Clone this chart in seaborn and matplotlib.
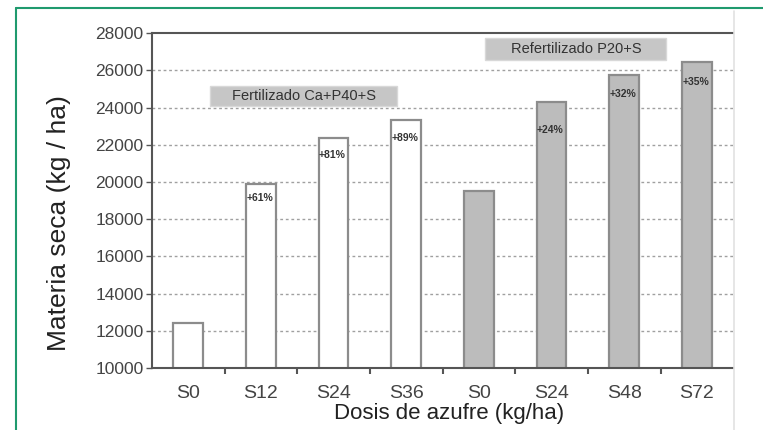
import matplotlib
matplotlib.use('Agg')
import matplotlib.pyplot as plt
import numpy as np
import pandas as pd
import seaborn as sns
from matplotlib.lines import Line2D
from matplotlib.patches import Rectangle

# Datos
CATEGORIAS = ['S0', 'S12', 'S24', 'S36', 'S0', 'S24', 'S48', 'S72']
GRUPOS = ['Fertilizado'] * 4 + ['Refertilizado'] * 4
MATERIA_SECA = [12400, 19900, 22350, 23330, 19530, 24280, 25740, 26430]
INCREMENTOS = ['', '+61%', '+81%', '+89%', '', '+24%', '+32%', '+35%']
ALTURA_ETIQUETA = [0, 19140, 21450, 22370, 0, 22800, 24730, 25380]

df = pd.DataFrame({
    'pos': range(len(CATEGORIAS)),
    'grupo': GRUPOS,
    'valor': MATERIA_SECA,
})

sns.set_theme(style="white")
plt.rcParams['font.family'] = ['Liberation Sans', 'DejaVu Sans']

fig = plt.figure(figsize=(7.63, 4.30), dpi=100)
ax = fig.add_axes([0.199, 0.144, 0.762, 0.779])

sns.barplot(data=df, x='pos', y='valor', hue='grupo', dodge=False, width=0.41,
            palette={'Fertilizado': 'white', 'Refertilizado': '#bcbcbc'},
            edgecolor='#8c8c8c', linewidth=1.6, legend=False, ax=ax)

ax.set_ylim(10000, 28000)
ax.set_xlim(-0.5, len(CATEGORIAS) - 0.5)
ax.set_yticks(np.arange(10000, 28001, 2000))
ax.set_xticks(range(len(CATEGORIAS)))
ax.set_xticklabels(CATEGORIAS)
ax.set_xticks(np.arange(0.5, len(CATEGORIAS) - 1, 1), minor=True)

for y in np.arange(12000, 27000, 2000):
    ax.axhline(y, color='#a0a0a0', lw=1, ls=(0, (2, 2)), zorder=0)

for s in ['left', 'bottom', 'top']:
    ax.spines[s].set_color('#555555')
    ax.spines[s].set_linewidth(1.5)
ax.spines['right'].set_visible(False)

ax.tick_params(axis='y', which='major', length=4, width=1, color='#555555',
               labelsize=12.5, labelcolor='#444444', left=True, pad=2)
ax.tick_params(axis='x', which='major', length=0, labelsize=14,
               labelcolor='#444444', pad=12)
ax.tick_params(axis='x', which='minor', length=4, width=1.5, color='#555555',
               bottom=True, direction='out')

ax.set_xlabel('Dosis de azufre (kg/ha)', fontsize=16, color='#222222')
ax.set_ylabel('Materia seca (kg / ha)', fontsize=19, color='#222222')
ax.xaxis.set_label_coords(0.511, -0.103)
ax.yaxis.set_label_coords(-0.139, 0.433)

# Etiquetas de incremento
for i, (txt, yl) in enumerate(zip(INCREMENTOS, ALTURA_ETIQUETA)):
    if txt:
        ax.text(i - 0.2, yl, txt, fontsize=7.5, ha='left', va='center',
                color='#333333', fontweight='bold')

# Cuadros de grupo
for x0, y0, w, h, txt in [(0.30, 24080, 2.58, 1080, 'Fertilizado Ca+P40+S'),
                          (4.09, 26560, 2.49, 1180, 'Refertilizado P20+S')]:
    ax.add_patch(Rectangle((x0, y0), w, h, facecolor='#c6c6c6',
                           edgecolor='#d8d8d8', lw=1, zorder=3))
    ax.text(x0 + w / 2, y0 + h / 2, txt, fontsize=10.5, ha='center',
            va='center', color='#333333', zorder=4)

# Marco verde y bordes claros
fig.add_artist(Line2D([0.021, 1.0], [0.981, 0.981], color='#1f9a6e', lw=1.5))
fig.add_artist(Line2D([0.021, 0.021], [0.0, 0.981], color='#1f9a6e', lw=1.5))
fig.add_artist(Line2D([0.962, 0.962], [0.0, 0.975], color='#e2e2e2', lw=1.2))

plt.savefig('out.png', dpi=100)
plt.close()
